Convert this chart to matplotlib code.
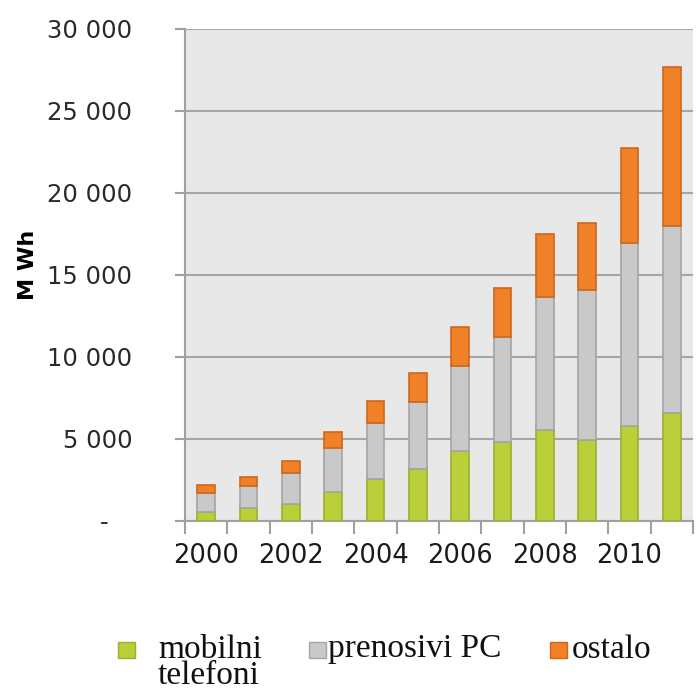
"""
Potrosnja energije prenosnih uredjaja po godinama (naslagani stupci)
"""
import matplotlib
matplotlib.use('Agg')
import matplotlib.pyplot as plt
from matplotlib.patches import Rectangle
from matplotlib.ticker import FuncFormatter, FixedLocator

# Podaci (procijenjeni sa slike), MWh
years = [2000, 2001, 2002, 2003, 2004, 2005, 2006, 2007, 2008, 2009, 2010, 2011]
mobilni = [570, 810, 1060, 1770, 2560, 3150, 4270, 4840, 5530, 4940, 5810, 6590]
laptop = [1160, 1320, 1840, 2680, 3400, 4110, 5180, 6360, 8130, 9150, 11120, 11410]
ostalo = [470, 550, 780, 1000, 1360, 1740, 2400, 2990, 3810, 4080, 5830, 9700]

labels = ['mobilni\ntelefoni', 'prenosivi PC', 'ostalo']
colors = ['#bacf3a', '#c9c9c9', '#f08128']
edges = ['#9cb02c', '#a4a4a4', '#d0661c']

W, H = 696, 693


def px(x, y):
    # pikseli slike -> koordinate figure
    return x / W, 1 - y / H


fig = plt.figure(figsize=(W / 100, H / 100), dpi=100)
ax = fig.add_axes([185 / W, (H - 521) / H, 508 / W, 492 / H])
ax.set_facecolor('#e8e8e8')

xs = list(range(len(years)))
bottom = [0] * len(years)
for vals, c, e, lab in zip([mobilni, laptop, ostalo], colors, edges, labels):
    ax.bar(xs, vals, width=0.42, bottom=bottom, color=c, edgecolor=e,
           linewidth=1.2, label=lab, zorder=3)
    bottom = [b + v for b, v in zip(bottom, vals)]

ax.set_xlim(-0.5, len(years) - 0.5)
ax.set_ylim(0, 30000)

# Os Y
ax.yaxis.set_major_locator(FixedLocator(range(0, 30001, 5000)))
ax.yaxis.set_major_formatter(FuncFormatter(
    lambda v, p: '-   ' if v == 0 else f'{int(v):,}'.replace(',', ' ')))
ax.tick_params(axis='y', length=7, width=1.5, color='#a0a0a0', pad=31,
               labelsize=17.5, labelcolor='#2a2a2a')
ax.grid(axis='y', color='#a6a6a6', linewidth=1.5, zorder=1)

# Os X: oznake na parnim godinama, crtice izmedju kategorija
ax.set_xticks(xs[::2])
ax.set_xticklabels([str(y) for y in years[::2]])
ax.set_xticks([i - 0.5 for i in range(len(years) + 1)], minor=True)
ax.tick_params(axis='x', which='major', length=0, pad=16, labelsize=18.5,
               labelcolor='#1a1a1a')
ax.tick_params(axis='x', which='minor', length=9, width=1.5, color='#a0a0a0')

for side in ['left', 'bottom']:
    ax.spines[side].set_color('#a0a0a0')
    ax.spines[side].set_linewidth(1.5)
for side in ['top', 'right']:
    ax.spines[side].set_visible(False)

ax.set_ylabel('M Wh', fontsize=16, fontweight='bold')
ax.yaxis.set_label_coords(-0.29, 0.52)

# Legenda (rucno, ispod grafa)
sq = [118, 309, 550]
tx = [158, 328, 572]
for i in range(3):
    x0, y0 = px(sq[i], 658)
    fig.add_artist(Rectangle((x0, y0), 17 / W, 16 / H, transform=fig.transFigure,
                             facecolor=colors[i], edgecolor=edges[i], linewidth=1))
    fig.text(*px(tx[i], 634), labels[i], ha='left', va='top',
             fontsize=24, family='Liberation Serif', linespacing=0.82,
             color='#111111')

plt.savefig('out.png', dpi=100)
